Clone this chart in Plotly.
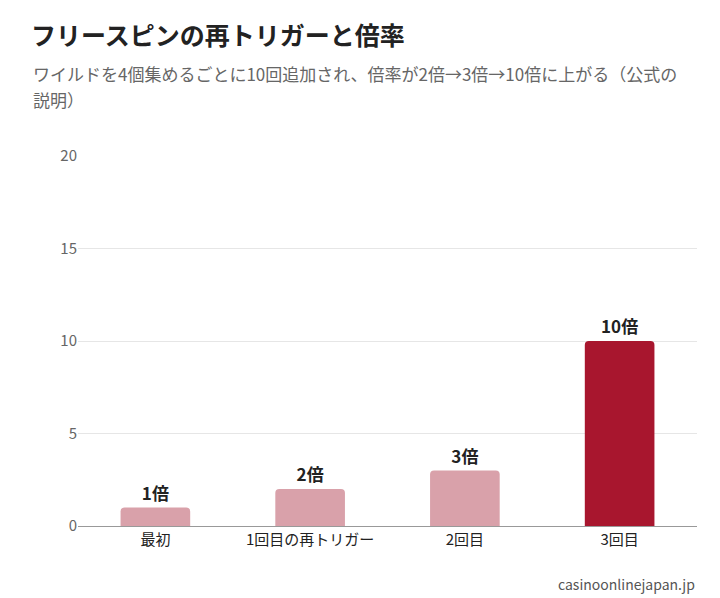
import plotly.graph_objects as go

categories = ["最初", "1回目の再トリガー", "2回目", "3回目"]
multipliers = [1, 2, 3, 10]
labels = ["1倍", "2倍", "3倍", "10倍"]
colors = ["#d9a1aa", "#d9a1aa", "#d9a1aa", "#a8162e"]

font = "Noto Sans CJK JP"

fig = go.Figure(go.Bar(
    x=categories, y=multipliers, text=labels, textposition="outside",
    textfont=dict(size=17, color="#222", family=font, weight="bold"),
    marker=dict(color=colors, line_width=0, cornerradius=4),
    width=0.45, cliponaxis=False,
))

fig.update_layout(
    width=720, height=598,
    margin=dict(l=70, r=31, t=148, b=80),
    plot_bgcolor="white", paper_bgcolor="white",
    font=dict(family=font, color="#555"),
    showlegend=False,
    title=dict(
        text="<b>フリースピンの再トリガーと倍率</b>",
        x=23 / 720, xref="container", xanchor="left", y=0.968, yanchor="top",
        font=dict(size=25, color="#222", family=font),
    ),
)

# subtitle, two lines
sub_lines = ["ワイルドを4個集めるごとに10回追加され、倍率が2倍→3倍→10倍に上がる（公式の", "説明）"]
for i, line in enumerate(sub_lines):
    fig.add_annotation(
        text=line, xref="paper", yref="paper", x=-47 / 619, y=1.262 - i * 0.071,
        xanchor="left", yanchor="top", align="left", showarrow=False,
        font=dict(size=17, color="#666", family=font),
    )
fig.add_annotation(
    text="casinoonlinejapan.jp", xref="paper", yref="paper", x=1, y=-0.125,
    xanchor="right", yanchor="top", showarrow=False,
    font=dict(size=14, color="#555", family=font),
)

fig.update_yaxes(range=[0, 20], tickvals=[0, 5, 10, 15, 20], gridcolor="#e6e6e6",
                 zeroline=False, tickfont=dict(size=15, color="#666"), ticks="", ticklen=0)
fig.update_xaxes(showline=True, linecolor="#999", tickfont=dict(size=15, color="#222"))

fig.write_html("out.html")
